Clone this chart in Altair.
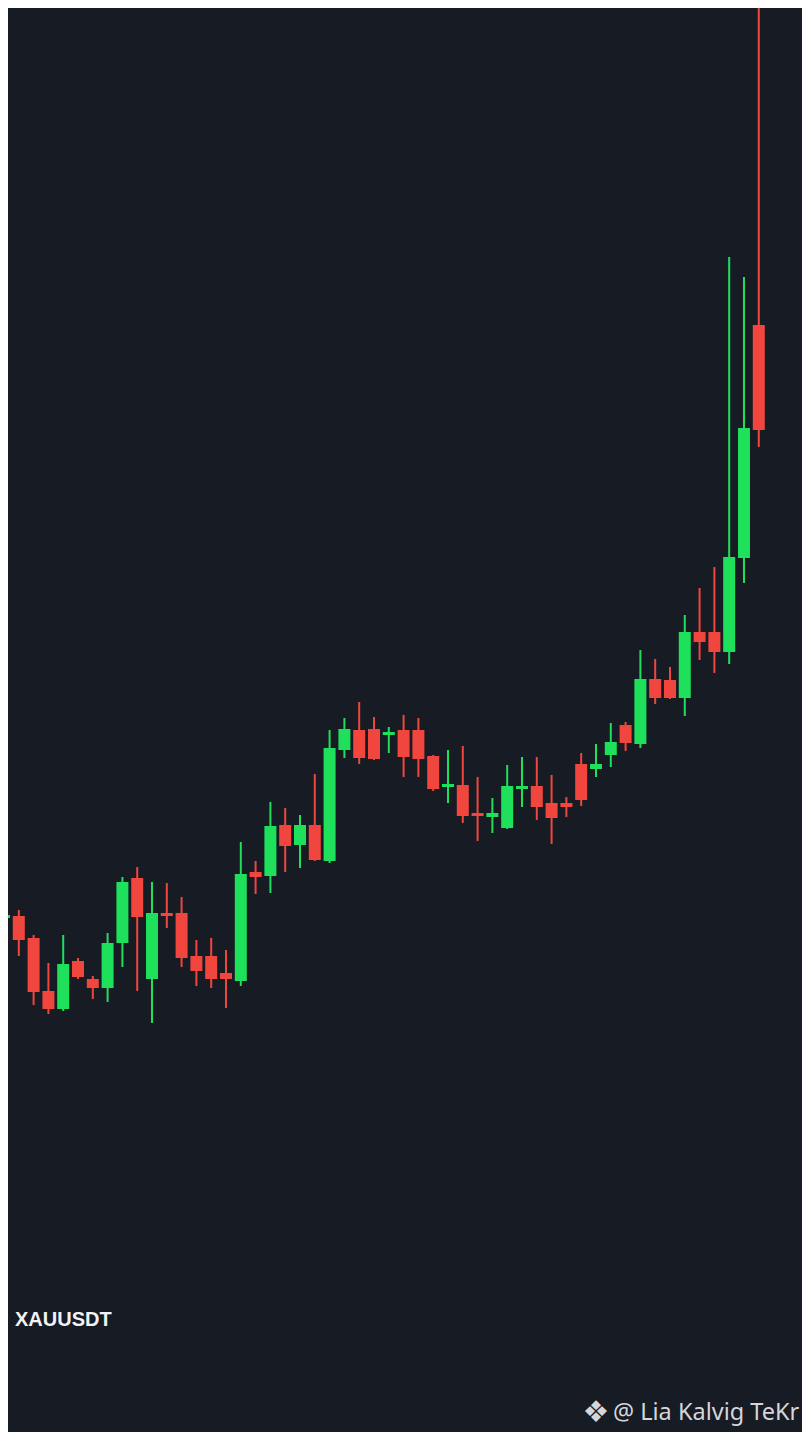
import altair as alt
import pandas as pd

# Candle values (arbitrary price units, larger = higher)
opens = [522, 524, 502, 449, 431, 479, 461, 452, 497, 562, 461, 527, 527, 484, 484, 467, 459,
         568, 564, 615, 595, 615, 579, 690, 710, 711, 705, 710, 710, 684,
         653, 655, 627, 623, 612, 651, 654, 637, 637, 676, 671, 685, 715, 696,
         761, 760, 742, 808, 808, 788, 882, 1115]
highs = [528, 530, 505, 477, 505, 482, 464, 507, 563, 573, 558, 557, 543, 500, 502, 490, 598,
         579, 638, 632, 625, 666, 710, 722, 738, 723, 713, 725, 722, 685,
         690, 694, 663, 642, 675, 683, 683, 665, 643, 687, 696, 717, 718, 790,
         781, 773, 825, 852, 873, 1183, 1163, 1440]
lows = [492, 484, 435, 426, 429, 461, 441, 438, 473, 449, 417, 512, 473, 454, 452, 432, 454,
        546, 547, 568, 572, 579, 577, 682, 676, 680, 687, 663, 663, 649,
        637, 617, 599, 607, 611, 633, 620, 596, 623, 634, 663, 673, 689, 692,
        736, 741, 724, 780, 767, 776, 857, 993]
closes = [525, 500, 448, 431, 476, 463, 452, 497, 558, 523, 527, 524, 482, 469, 461, 461, 566,
          563, 614, 594, 615, 580, 692, 711, 682, 681, 708, 683, 681, 651,
          656, 624, 624, 627, 654, 654, 633, 622, 633, 640, 676, 698, 697, 761,
          742, 742, 808, 798, 788, 883, 1012, 1010]

symbol = "XAUUSDT"
watermark = "@ Lia Kalvig TeKr"

df = pd.DataFrame({
    "i": list(range(len(opens))),
    "open": opens, "high": highs, "low": lows, "close": closes,
})
df["dir"] = ["up" if c >= o else "down" for o, c in zip(df["open"], df["close"])]

W, H = 794, 1424
BG = "#161b24"
GREEN = "#1fe05b"
RED = "#f1463e"

xs = alt.Scale(domain=[0.27, 53.92], nice=False, zero=False, padding=0)
ys = alt.Scale(domain=[8, 1432], nice=False, zero=False, padding=0)
col = alt.Color("dir:N", scale=alt.Scale(domain=["up", "down"], range=[GREEN, RED]), legend=None)

base = alt.Chart(df)

wicks = base.mark_rule(strokeWidth=2, clip=True).encode(
    x=alt.X("i:Q", scale=xs, axis=None),
    y=alt.Y("low:Q", scale=ys, axis=None),
    y2="high:Q",
    color=col,
)

bodies = base.mark_bar(size=12, clip=True).encode(
    x=alt.X("i:Q", scale=xs, axis=None),
    y=alt.Y("open:Q", scale=ys, axis=None),
    y2="close:Q",
    color=col,
)

title_txt = alt.Chart(pd.DataFrame({"t": [symbol]})).mark_text(
    align="left", baseline="middle", font="Liberation Sans", fontWeight="bold",
    fontSize=20, color="#f2f3f5",
).encode(text="t:N", x=alt.value(7), y=alt.value(1312))

icon = alt.Chart(pd.DataFrame({"t": ["❖"]})).mark_text(
    align="center", baseline="middle", font="DejaVu Sans", fontSize=30, color="#d4d6da",
).encode(text="t:N", x=alt.value(588), y=alt.value(1405))

wm = alt.Chart(pd.DataFrame({"t": [watermark]})).mark_text(
    align="left", baseline="middle", font="Noto Sans", fontSize=23.5, color="#d4d6da",
).encode(text="t:N", x=alt.value(605), y=alt.value(1405))

chart = alt.layer(wicks, bodies, title_txt, icon, wm).properties(
    width=W, height=H, padding=0, autosize=alt.AutoSizeParams(type="none"),
    background=BG,
).configure_view(stroke=None, fill=BG)

chart.save("out.html", embed_options={"renderer": "svg", "actions": False})
